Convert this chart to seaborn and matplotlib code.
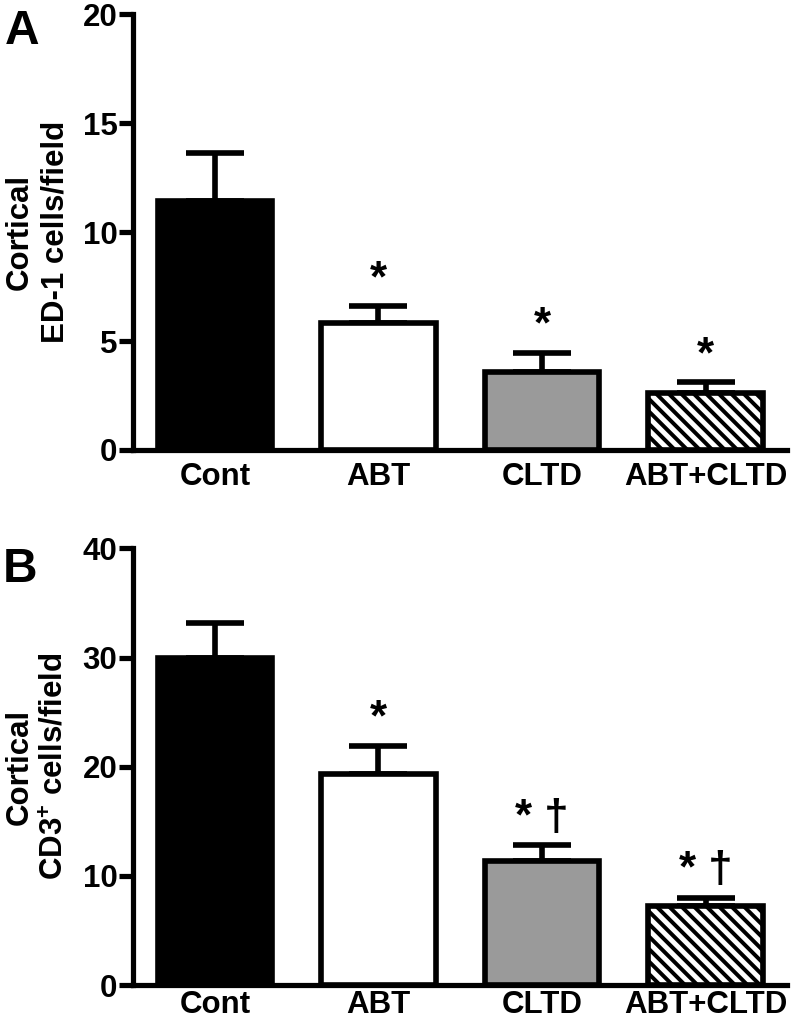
import matplotlib
matplotlib.use("Agg")
import matplotlib.pyplot as plt
import seaborn as sns
import numpy as np
import pandas as pd

# Données
groups = ["Cont", "ABT", "CLTD", "ABT+CLTD"]
ed1_mean = [11.45, 5.85, 3.6, 2.6]
ed1_sem = [2.2, 0.75, 0.85, 0.5]
ed1_marks = ["", "*", "*", "*"]
cd3_mean = [30.0, 19.3, 11.4, 7.2]
cd3_sem = [3.2, 2.6, 1.4, 0.8]
cd3_marks = ["", "*", "* \u2020", "* \u2020"]

bar_colors = ["black", "white", "#9a9a9a", "white"]
bar_hatches = [None, None, None, "\\\\\\\\"]

sns.set_style("ticks")
plt.rcParams["font.family"] = ["Liberation Sans", "DejaVu Sans"]
plt.rcParams["font.weight"] = "bold"
plt.rcParams["mathtext.fontset"] = "custom"
plt.rcParams["mathtext.rm"] = "Liberation Sans:bold"
plt.rcParams["mathtext.bf"] = "Liberation Sans:bold"
plt.rcParams["hatch.linewidth"] = 1.9
plt.rcParams["hatch.color"] = "black"
for key in ["text.color", "axes.labelcolor", "xtick.color", "ytick.color", "axes.edgecolor"]:
    plt.rcParams[key] = "black"

DPI = 150
fig = plt.figure(figsize=(797 / DPI, 1025 / DPI), dpi=DPI)
ax_a = fig.add_axes([0.167, 0.561, 0.821, 0.425])
ax_b = fig.add_axes([0.167, 0.039, 0.821, 0.426])


def draw_panel(ax, means, sems, marks, ymax, ystep, ylabel, xpad):
    df = pd.DataFrame({"group": groups, "value": means})
    sns.barplot(data=df, x="group", y="value", ax=ax, width=0.7,
                errorbar=None, color="white", zorder=3)
    for patch, col, hat in zip(ax.patches, bar_colors, bar_hatches):
        patch.set_facecolor(col)
        patch.set_edgecolor("black")
        patch.set_linewidth(2.7)
        if hat:
            patch.set_hatch(hat)
    x = np.arange(len(groups))
    ax.errorbar(x, means, yerr=[np.zeros(len(sems)), sems], fmt="none",
                ecolor="black", elinewidth=2.7, capsize=14, capthick=2.7,
                zorder=2)
    for xi, m, s, txt in zip(x, means, sems, marks):
        if txt:
            ax.annotate(txt, xy=(xi, m + s), xytext=(0, 3),
                        textcoords="offset points", ha="center", va="bottom",
                        fontsize=21, fontweight="bold")
    ax.set_xlim(-0.5, 3.5)
    ax.set_ylim(0, ymax)
    ax.set_yticks(np.arange(0, ymax + 1, ystep))
    ax.set_xlabel("")
    ax.set_ylabel(ylabel, fontsize=15, fontweight="bold", labelpad=6,
                  linespacing=1.25)
    sns.despine(ax=ax)
    for side in ["left", "bottom"]:
        ax.spines[side].set_linewidth(2.5)
    ax.tick_params(axis="y", width=2.5, length=6.5, labelsize=15, pad=1)
    ax.tick_params(axis="x", length=0, labelsize=15, pad=xpad)
    for lab in ax.get_xticklabels() + ax.get_yticklabels():
        lab.set_fontweight("bold")


draw_panel(ax_a, ed1_mean, ed1_sem, ed1_marks, 20, 5,
           "Cortical\nED-1 cells/field", 6)
draw_panel(ax_b, cd3_mean, cd3_sem, cd3_marks, 40, 10,
           "Cortical\nCD3$^{+}$ cells/field", 2.5)

fig.text(0.006, 0.991, "A", fontsize=23, fontweight="bold", ha="left", va="top")
fig.text(0.004, 0.466, "B", fontsize=23, fontweight="bold", ha="left", va="top")

fig.savefig("out.png", dpi=DPI)
